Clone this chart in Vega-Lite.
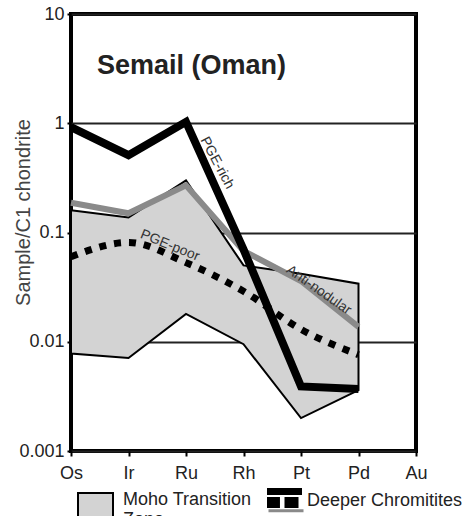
{
  "$schema": "https://vega.github.io/schema/vega-lite/v6.json",
  "width": 345,
  "height": 437,
  "autosize": {"type": "none"},
  "padding": {"left": 71, "top": 14, "right": 48, "bottom": 65},
  "config": {
    "font": "Liberation Sans",
    "view": {"stroke": "black", "strokeWidth": 4},
    "legend": {"labelFont": "Liberation Sans", "labelFontSize": 18, "labelColor": "#222", "padding": 0, "titlePadding": 0, "labelLimit": 300}
  },
  "datasets": {
    "band": [
      {"el": "Os", "i": 0, "hi": 0.16, "lo": 0.0078, "grp": "Moho Transition Zone"},
      {"el": "Ir", "i": 1, "hi": 0.137, "lo": 0.0071, "grp": "Moho Transition Zone"},
      {"el": "Ru", "i": 2, "hi": 0.30, "lo": 0.018, "grp": "Moho Transition Zone"},
      {"el": "Rh", "i": 3, "hi": 0.05, "lo": 0.0095, "grp": "Moho Transition Zone"},
      {"el": "Pt", "i": 4, "hi": 0.042, "lo": 0.002, "grp": "Moho Transition Zone"},
      {"el": "Pd", "i": 5, "hi": 0.034, "lo": 0.0036, "grp": "Moho Transition Zone"}
    ],
    "lines": [
      {"series": "PGE-rich", "el": "Os", "i": 0, "v": 0.92, "grp": "Deeper Chromitites"},
      {"series": "PGE-rich", "el": "Ir", "i": 1, "v": 0.51, "grp": "Deeper Chromitites"},
      {"series": "PGE-rich", "el": "Ru", "i": 2, "v": 1.03, "grp": "Deeper Chromitites"},
      {"series": "PGE-rich", "el": "Rh", "i": 3, "v": 0.07, "grp": "Deeper Chromitites"},
      {"series": "PGE-rich", "el": "Pt", "i": 4, "v": 0.0039, "grp": "Deeper Chromitites"},
      {"series": "PGE-rich", "el": "Pd", "i": 5, "v": 0.0037, "grp": "Deeper Chromitites"},
      {"series": "PGE-poor", "el": "Os", "i": 0, "v": 0.06, "grp": "Deeper Chromitites"},
      {"series": "PGE-poor", "el": "Ir", "i": 1, "v": 0.081, "grp": "Deeper Chromitites"},
      {"series": "PGE-poor", "el": "Ru", "i": 2, "v": 0.053, "grp": "Deeper Chromitites"},
      {"series": "PGE-poor", "el": "Rh", "i": 3, "v": 0.029, "grp": "Deeper Chromitites"},
      {"series": "PGE-poor", "el": "Pt", "i": 4, "v": 0.013, "grp": "Deeper Chromitites"},
      {"series": "PGE-poor", "el": "Pd", "i": 5, "v": 0.0076, "grp": "Deeper Chromitites"},
      {"series": "Anti-nodular", "el": "Os", "i": 0, "v": 0.187, "grp": "Deeper Chromitites"},
      {"series": "Anti-nodular", "el": "Ir", "i": 1, "v": 0.15, "grp": "Deeper Chromitites"},
      {"series": "Anti-nodular", "el": "Ru", "i": 2, "v": 0.27, "grp": "Deeper Chromitites"},
      {"series": "Anti-nodular", "el": "Rh", "i": 3, "v": 0.068, "grp": "Deeper Chromitites"},
      {"series": "Anti-nodular", "el": "Pt", "i": 4, "v": 0.036, "grp": "Deeper Chromitites"},
      {"series": "Anti-nodular", "el": "Pd", "i": 5, "v": 0.0137, "grp": "Deeper Chromitites"}
    ],
    "labels": [
      {"label": "Semail (Oman)", "i": 0.45, "v": 2.85},
      {"label": "PGE-rich", "i": 2.54, "v": 0.433},
      {"label": "PGE-poor", "i": 1.72, "v": 0.076},
      {"label": "Anti-nodular", "i": 4.31, "v": 0.0297}
    ]
  },
  "layer": [
    {
      "data": {"name": "band"},
      "mark": {"type": "area", "stroke": "black", "strokeWidth": 2, "strokeJoin": "miter"},
      "encoding": {
        "x": {
          "field": "i", "type": "quantitative",
          "scale": {"domain": [0, 6], "nice": false, "zero": false},
          "axis": {
            "values": [0, 1, 2, 3, 4, 5, 6],
            "labelExpr": "['Os','Ir','Ru','Rh','Pt','Pd','Au'][datum.value]",
            "grid": false, "domain": false, "tickSize": 5, "tickWidth": 2, "tickColor": "black",
            "labelPadding": 8, "labelFontSize": 18, "labelColor": "#222", "labelFlush": false, "title": null
          }
        },
        "y": {
          "field": "hi", "type": "quantitative",
          "scale": {"type": "log", "domain": [0.001, 10], "nice": false},
          "axis": {
            "values": [0.001, 0.01, 0.1, 1, 10], "format": "~g",
            "grid": true, "gridColor": "#222", "gridWidth": 2, "domain": false,
            "tickColor": "black", "tickWidth": 2, "tickSize": 4, "labelPadding": 3,
            "labelFontSize": 18, "labelColor": "#222", "labelOverlap": false,
            "title": "Sample/C1 chondrite", "titleFontSize": 20, "titleFontWeight": "normal",
            "titleColor": "#444", "titleX": -38, "titleY": 198
          }
        },
        "y2": {"field": "lo"},
        "fill": {
          "field": "grp", "type": "nominal", "scale": {"range": ["#d3d3d3"]},
          "legend": {
            "title": null, "orient": "none", "legendX": 6, "legendY": 467,
            "symbolType": "M-1,-0.37H1V1.63H-1Z", "symbolSize": 1225, "symbolStrokeColor": "black",
            "symbolStrokeWidth": 2, "symbolFillColor": "#d3d3d3", "labelOffset": 9,
            "labelExpr": "['Moho Transition','Zone']"
          }
        }
      }
    },
    {
      "data": {"name": "lines"},
      "transform": [{"filter": "datum.series == 'Anti-nodular'"}],
      "mark": {"type": "line", "strokeWidth": 6, "strokeJoin": "miter"},
      "encoding": {
        "x": {"field": "i", "type": "quantitative"},
        "y": {"field": "v", "type": "quantitative"},
        "stroke": {
          "field": "series", "type": "nominal", "scale": {"range": ["#8a8a8a"]},
          "legend": {
            "title": null, "orient": "none", "legendX": 196, "legendY": 469,
            "symbolType": "M-1,0.5H1", "symbolSize": 1225, "symbolStrokeWidth": 3,
            "symbolStrokeColor": "#8a8a8a", "labelExpr": "''"
          }
        }
      }
    },
    {
      "data": {"name": "lines"},
      "transform": [{"filter": "datum.series == 'PGE-poor'"}],
      "mark": {"type": "line", "color": "black", "strokeWidth": 7, "strokeDash": [7, 8], "strokeCap": "butt", "interpolate": "monotone"},
      "encoding": {
        "x": {"field": "i", "type": "quantitative"},
        "y": {"field": "v", "type": "quantitative"}
      }
    },
    {
      "data": {"name": "lines"},
      "transform": [{"filter": "datum.series == 'PGE-rich'"}],
      "mark": {"type": "line", "color": "black", "strokeWidth": 8, "strokeJoin": "miter"},
      "encoding": {
        "x": {"field": "i", "type": "quantitative"},
        "y": {"field": "v", "type": "quantitative"}
      }
    },
    {
      "data": {"name": "lines"},
      "transform": [{"filter": "datum.series == 'PGE-rich'"}],
      "mark": {"type": "point", "filled": true, "color": "black", "opacity": 0},
      "encoding": {
        "x": {"field": "i", "type": "quantitative"},
        "y": {"field": "v", "type": "quantitative"},
        "shape": {
          "field": "grp", "type": "nominal",
          "scale": {"range": ["M-1,-0.71H1V-0.31H-1Z M-1,-0.2H-0.26V0.43H-1Z M0,-0.2H0.8V0.43H0Z"]},
          "legend": {
            "title": null, "orient": "none", "legendX": 196, "legendY": 469,
            "symbolSize": 1225, "symbolFillColor": "black", "symbolStrokeWidth": 0,
            "symbolOpacity": 1, "labelOffset": 5
          }
        }
      }
    },
    {
      "data": {"name": "labels"},
      "transform": [{"filter": "datum.label == 'Semail (Oman)'"}],
      "mark": {"type": "text", "align": "left", "baseline": "alphabetic", "fontSize": 27, "fontWeight": "bold", "color": "#222"},
      "encoding": {
        "x": {"field": "i", "type": "quantitative"},
        "y": {"field": "v", "type": "quantitative"},
        "text": {"field": "label"}
      }
    },
    {
      "data": {"name": "labels"},
      "transform": [{"filter": "datum.label == 'PGE-rich'"}],
      "mark": {"type": "text", "align": "center", "baseline": "middle", "fontSize": 14, "angle": 62, "color": "#333"},
      "encoding": {
        "x": {"field": "i", "type": "quantitative"},
        "y": {"field": "v", "type": "quantitative"},
        "text": {"field": "label"}
      }
    },
    {
      "data": {"name": "labels"},
      "transform": [{"filter": "datum.label == 'PGE-poor'"}],
      "mark": {"type": "text", "align": "center", "baseline": "middle", "fontSize": 14, "angle": 22, "color": "#333"},
      "encoding": {
        "x": {"field": "i", "type": "quantitative"},
        "y": {"field": "v", "type": "quantitative"},
        "text": {"field": "label"}
      }
    },
    {
      "data": {"name": "labels"},
      "transform": [{"filter": "datum.label == 'Anti-nodular'"}],
      "mark": {"type": "text", "align": "center", "baseline": "middle", "fontSize": 14, "angle": 35, "color": "#333"},
      "encoding": {
        "x": {"field": "i", "type": "quantitative"},
        "y": {"field": "v", "type": "quantitative"},
        "text": {"field": "label"}
      }
    }
  ]
}
